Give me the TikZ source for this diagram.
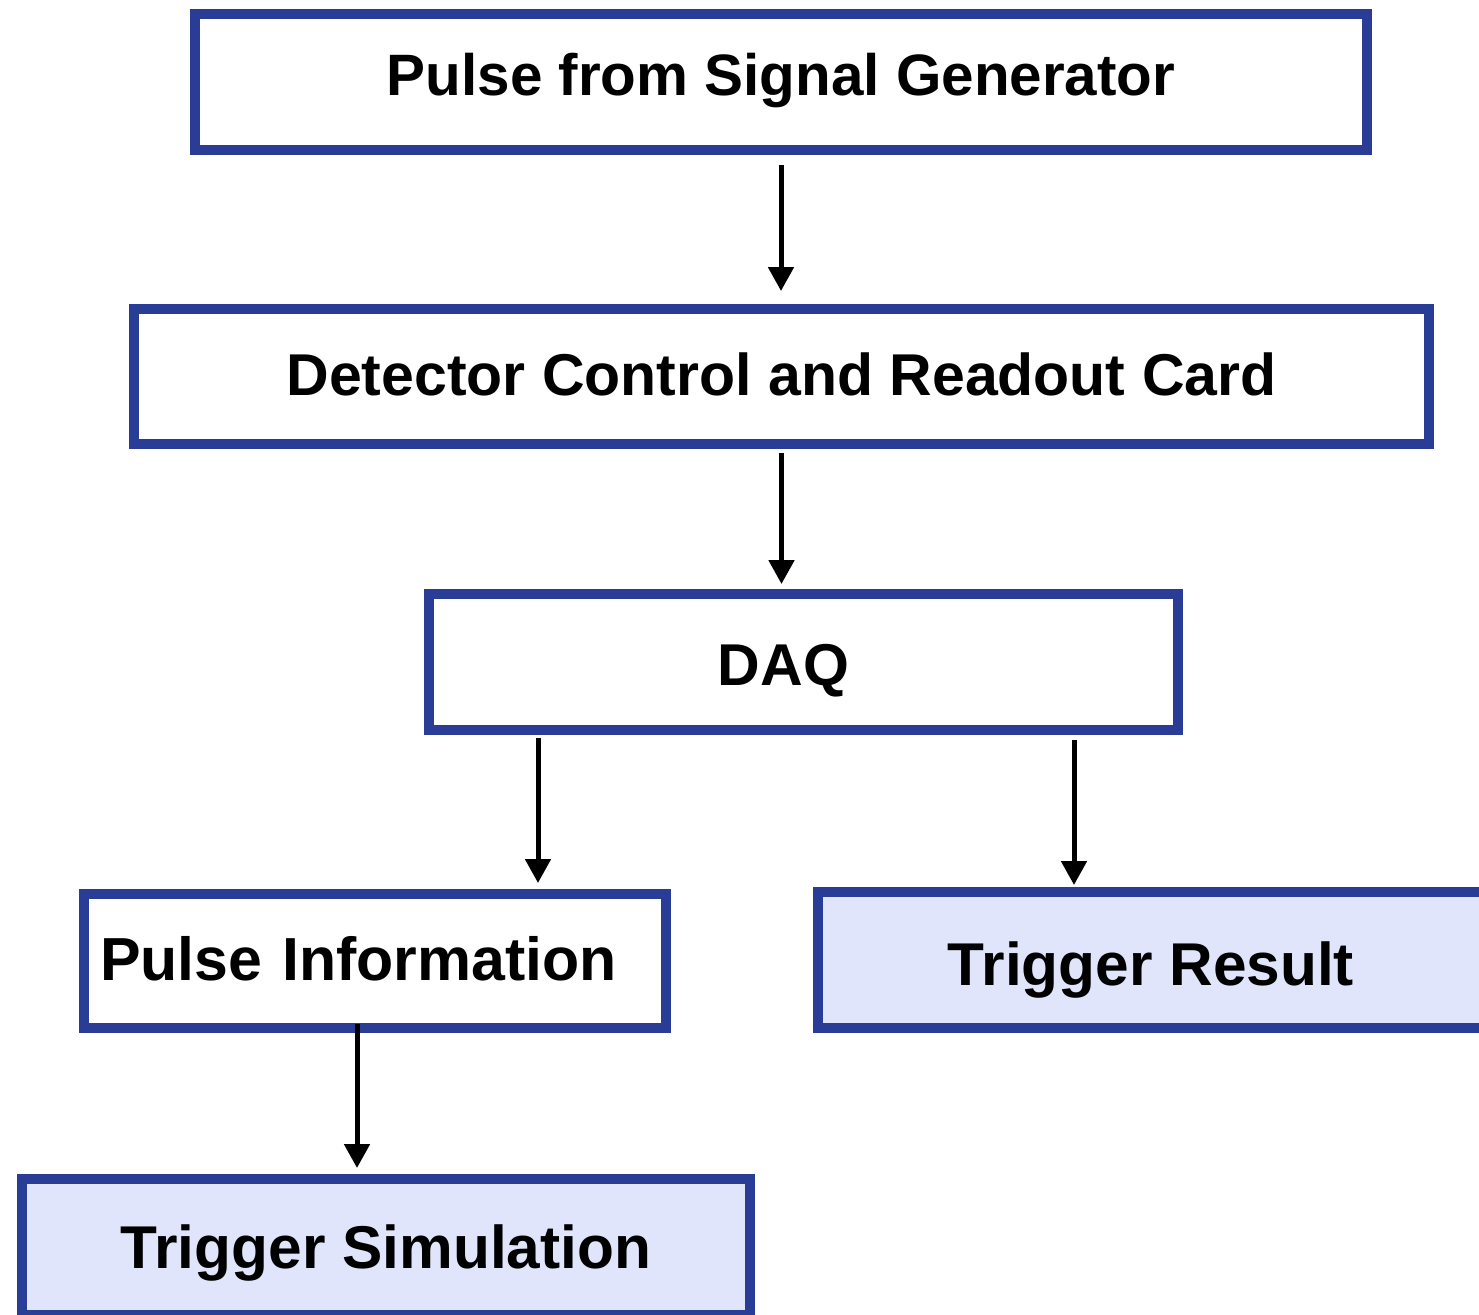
\documentclass[tikz,border=0pt]{standalone}
\usepackage{fontspec}
\setmainfont{Liberation Sans}
\usetikzlibrary{arrows.meta}
\definecolor{boxblue}{RGB}{41,60,150}
\definecolor{boxfill}{RGB}{224,229,252}
\tikzset{
  box/.style={draw=boxblue, line width=5pt, fill=white, inner sep=0pt,
    font=\bfseries\fontsize{29.5}{35}\selectfont, text depth=0pt},
  bigtext/.style={font=\bfseries\fontsize{30.2}{36}\selectfont},
  resbox/.style={box, fill=boxfill, bigtext},
  arr/.style={line width=2.5pt, -{Triangle[width=12.5pt,length=12pt]}},
}
\begin{document}
\begin{tikzpicture}[x=0.5pt,y=-0.5pt]
\path[use as bounding box, clip] (0,0) rectangle (1479,1314);
\node[box, font=\bfseries\fontsize{29.2}{35}\selectfont, minimum width=586pt, minimum height=68pt, text height=13pt] (gen) at (781,82) {Pulse from Signal Generator};
\node[box, minimum width=647.5pt, minimum height=67.5pt, text height=18.5pt] (dcrc) at (781.5,376.5) {Detector Control and Readout Card};
\node[box, minimum width=374.5pt, minimum height=68pt, text height=23pt] (daq) at (803.5,662) {DAQ\hspace*{20pt}};
\node[box, bigtext, font=\bfseries\fontsize{30.4}{36}\selectfont, minimum width=291pt, minimum height=67pt, text height=19pt, text width=275pt, align=left, inner xsep=8pt] (pinfo) at (375,961) {Pulse Information};
\node[resbox, minimum width=333pt, minimum height=68pt, text height=25pt] (tres) at (1151,960) {Trigger Result};
\node[resbox, minimum width=364pt, minimum height=68pt, text height=21pt] (tsim) at (386,1247) {Trigger Simulation};
\draw[arr, shorten <=5pt, shorten >=6.5pt] (gen.south) -- (gen.south |- dcrc.north);
\draw[arr, shorten <=2pt, shorten >=2.5pt] (dcrc.south) -- (dcrc.south |- daq.north);
\draw[arr, shorten <=1.5pt, shorten >=3pt] ([xshift=-132.75pt]daq.south) -- ([xshift=81.5pt]pinfo.north);
\draw[arr, shorten <=2.5pt, shorten >=1pt] ([xshift=135.25pt]daq.south) -- ([xshift=-38.5pt]tres.north);
\draw[arr, shorten <=-4.5pt, shorten >=3pt] ([xshift=-9pt]pinfo.south) -- ([xshift=-14.5pt]tsim.north);
\end{tikzpicture}
\end{document}
